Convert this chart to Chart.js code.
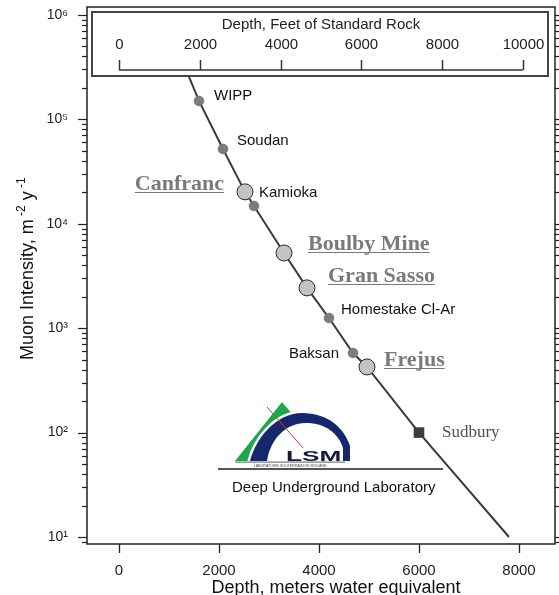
<!DOCTYPE html>
<html><head><meta charset="utf-8">
<script src="https://cdn.jsdelivr.net/npm/chart.js@4.4.1/dist/chart.umd.min.js"></script>
<style>html,body{margin:0;padding:0;background:#fff;} #wrap{width:559px;height:595px;position:relative;}</style>
</head><body><div id="wrap"><canvas id="c"></canvas></div>
<script>
// ---------------- data ----------------
const smallSites = ['WIPP', 'Soudan', 'Kamioka', 'Homestake Cl-Ar', 'Baksan'];
const smallDepth = [1600, 2080, 2700, 4200, 4680];
const smallIntensity = [1.5e5, 5.2e4, 1.48e4, 1.25e3, 578];

const largeSites = ['Canfranc', 'Boulby Mine', 'Gran Sasso', 'Frejus'];
const largeDepth = [2520, 3300, 3760, 4960];
const largeIntensity = [2.02e4, 5.25e3, 2.43e3, 425];

const squareSites = ['Sudbury'];
const squareDepth = [6000];
const squareIntensity = [100];

const curveDepth = [1400, 1600, 2080, 2520, 2700, 3300, 3760, 4200, 4680, 4960, 6000, 7800];
const curveIntensity = [2.55e5, 1.5e5, 5.2e4, 2.02e4, 1.48e4, 5.25e3, 2.43e3, 1.25e3, 578, 425, 100, 10];

const xTicks = [0, 2000, 4000, 6000, 8000];
const xTickLabels = ['0', '2000', '4000', '6000', '8000'];
const yDecades = [10, 100, 1000, 10000, 100000, 1000000];
const yDecadeLabels = ['10\u00B9', '10\u00B2', '10\u00B3', '10\u2074', '10\u2075', '10\u2076'];
const yMinorMultipliers = [2, 3, 4, 5, 6, 7, 8, 9];
const feetTicks = [0, 2000, 4000, 6000, 8000, 10000];
const feetTickLabels = ['0', '2000', '4000', '6000', '8000', '10000'];
const mwePerFootStdRock = 0.8077;

const xTitle = 'Depth, meters water equivalent';
const feetTitle = 'Depth, Feet of Standard Rock';
const logoCaption = 'Deep Underground Laboratory';

// ---------------- styles ----------------
const SANS = "'Liberation Sans', Arial, Helvetica, sans-serif";
const SERIF = "'Liberation Serif', 'Times New Roman', serif";
const AX = '#222';
// label offsets (px) relative to marker: [dx, dyBaseline, align]
const smallLabelOff = [[15, -1, 'left'], [14, -4, 'left'], [5, -9, 'left'], [12, -4, 'left'], [-14, 5, 'right']];
const largeLabelOff = [[-21, -2, 'right'], [24, -3, 'left'], [21, -6, 'left'], [17, -1, 'left']];
const squareLabelOff = [[23, 4, 'left']];

const xMin = -640, xMax = 8720;
const yMin = 8.57, yMax = 1.19e6;

const pts = (xs, ys) => xs.map((x, i) => ({ x: x, y: ys[i] }));
const zeroPad = s => { s.paddingTop = 0; s.paddingBottom = 0; s.paddingLeft = 0; s.paddingRight = 0; };

function drawLogo(ctx) {
  ctx.fillStyle = '#1ea84b';
  ctx.beginPath(); ctx.moveTo(282, 402); ctx.lineTo(235, 461); ctx.lineTo(332, 461); ctx.closePath(); ctx.fill();
  const outer = new Path2D();
  outer.moveTo(250, 461);
  outer.bezierCurveTo(255, 440, 275, 413, 302, 413);
  outer.bezierCurveTo(328, 413, 344, 428, 350, 446);
  outer.lineTo(350, 461);
  outer.closePath();
  const inner = new Path2D();
  inner.moveTo(267, 461);
  inner.bezierCurveTo(270, 440, 285, 423, 306, 423);
  inner.bezierCurveTo(325, 423, 338, 433, 343, 448);
  inner.lineTo(343, 461);
  inner.closePath();
  ctx.strokeStyle = '#ffffff'; ctx.lineWidth = 5; ctx.stroke(outer);
  ctx.fillStyle = '#14296b'; ctx.fill(outer);
  ctx.fillStyle = '#ffffff'; ctx.fill(inner);
  ctx.fillStyle = '#ffffff'; ctx.fillRect(228, 461, 125, 6);
  ctx.strokeStyle = '#e0304a'; ctx.lineWidth = 1;
  ctx.beginPath(); ctx.moveTo(267, 407); ctx.lineTo(303, 448); ctx.stroke();
  ctx.save();
  ctx.translate(286, 461); ctx.scale(1.75, 1);
  ctx.font = 'bold 15px ' + SANS; ctx.textAlign = 'left'; ctx.textBaseline = 'alphabetic';
  ctx.lineWidth = 3; ctx.strokeStyle = '#fff'; ctx.strokeText('LSM', 0, 0);
  ctx.fillStyle = '#161a3a'; ctx.fillText('LSM', 0, 0);
  ctx.restore();
  ctx.fillStyle = '#777'; ctx.fillRect(235, 461.5, 110, 1.2);
  ctx.font = '3.6px ' + SANS; ctx.fillStyle = '#444'; ctx.textAlign = 'center'; ctx.textBaseline = 'alphabetic';
  ctx.fillText('LABORATOIRE SOUTERRAIN DE MODANE', 290, 466.5);
}

const overlay = {
  id: 'overlay',
  afterDraw(chart) {
    const ctx = chart.ctx;
    const xs = chart.scales.x, ys = chart.scales.y;
    const a = chart.chartArea;
    ctx.save();
    ctx.strokeStyle = AX; ctx.lineWidth = 1.5;
    ctx.strokeRect(a.left, a.top, a.right - a.left, a.bottom - a.top);
    ctx.lineWidth = 1.3;
    xTicks.forEach(v => {
      const px = Math.round(xs.getPixelForValue(v)) + 0.5;
      ctx.beginPath(); ctx.moveTo(px, a.bottom); ctx.lineTo(px, a.bottom + 9); ctx.stroke();
    });
    ctx.lineWidth = 1.2;
    const tick = (v, len) => {
      if (v < yMin || v > yMax) return;
      const py = Math.round(ys.getPixelForValue(v)) + 0.5;
      ctx.beginPath(); ctx.moveTo(a.left - len, py); ctx.lineTo(a.left, py); ctx.stroke();
      ctx.beginPath(); ctx.moveTo(a.right, py); ctx.lineTo(a.right + len, py); ctx.stroke();
    };
    yDecades.forEach(d => {
      tick(d, 9);
      yMinorMultipliers.forEach(m => tick(d * m, 5));
    });
    yMinorMultipliers.forEach(m => tick(1 * m, 5));

    // feet axis box (feet converted to m.w.e. and placed by the x scale)
    const fpx = ft => xs.getPixelForValue(ft * mwePerFootStdRock);
    ctx.fillStyle = '#fff'; ctx.fillRect(92, 12, 456, 64);
    ctx.strokeStyle = '#444'; ctx.lineWidth = 2;
    ctx.strokeRect(92, 12, 456, 64);
    const fy = 70;
    ctx.strokeStyle = '#333'; ctx.lineWidth = 1.5;
    ctx.beginPath(); ctx.moveTo(fpx(feetTicks[0]), fy); ctx.lineTo(fpx(feetTicks[feetTicks.length - 1]), fy); ctx.stroke();
    ctx.fillStyle = AX; ctx.font = '15px ' + SANS; ctx.textAlign = 'center'; ctx.textBaseline = 'alphabetic';
    feetTicks.forEach((v, i) => {
      const px = Math.round(fpx(v)) + 0.5;
      ctx.beginPath(); ctx.moveTo(px, fy); ctx.lineTo(px, fy - 10); ctx.stroke();
      ctx.fillText(feetTickLabels[i], px, 49);
    });
    ctx.fillText(feetTitle, 321, 29);

    const label = (names, dx, dy, offs, style) => {
      names.forEach((n, i) => {
        const px = xs.getPixelForValue(dx[i]), py = ys.getPixelForValue(dy[i]);
        const o = offs[i];
        ctx.textAlign = o[2]; ctx.textBaseline = 'alphabetic';
        ctx.font = style.font; ctx.fillStyle = style.color;
        const tx = px + o[0], ty = py + o[1];
        ctx.fillText(n, tx, ty);
        if (style.underline) {
          const w = ctx.measureText(n).width;
          const x0 = o[2] === 'right' ? tx - w : tx;
          ctx.strokeStyle = style.color; ctx.lineWidth = 1;
          ctx.beginPath(); ctx.moveTo(x0, Math.round(ty + 2) + 0.5); ctx.lineTo(x0 + w, Math.round(ty + 2) + 0.5); ctx.stroke();
        }
      });
    };
    label(smallSites, smallDepth, smallIntensity, smallLabelOff, { font: '15px ' + SANS, color: '#111' });
    label(largeSites, largeDepth, largeIntensity, largeLabelOff, { font: 'bold 22px ' + SERIF, color: '#7a7a7a', underline: true });
    label(squareSites, squareDepth, squareIntensity, squareLabelOff, { font: '17px ' + SERIF, color: '#505050' });

    drawLogo(ctx);
    ctx.strokeStyle = '#555'; ctx.lineWidth = 2.2;
    ctx.beginPath(); ctx.moveTo(218, 469); ctx.lineTo(443, 469); ctx.stroke();
    ctx.fillStyle = '#111'; ctx.font = '15px ' + SANS; ctx.textAlign = 'left'; ctx.textBaseline = 'alphabetic';
    ctx.fillText(logoCaption, 232, 492);

    ctx.fillStyle = '#111'; ctx.font = '18px ' + SANS; ctx.textAlign = 'center';
    ctx.fillText(xTitle, 336, 593);
    ctx.save();
    ctx.translate(33, 360); ctx.rotate(-Math.PI / 2);
    ctx.textAlign = 'left';
    const segs = [['Muon Intensity, m', false], [' -2', true], [' y', false], [' -1', true]];
    let cx = 0;
    segs.forEach(s => {
      ctx.font = (s[1] ? '12px ' : '18px ') + SANS;
      ctx.fillText(s[0], cx, s[1] ? -8 : 0);
      cx += ctx.measureText(s[0]).width;
    });
    ctx.restore();
    ctx.restore();
  }
};

Chart.defaults.font.family = SANS;
new Chart(document.getElementById('c'), {
  type: 'scatter',
  data: {
    datasets: [
      { label: 'curve', data: pts(curveDepth, curveIntensity), showLine: true, borderColor: '#3a3a3a', borderWidth: 2, pointRadius: 0, tension: 0, order: 4 },
      { label: 'other labs', data: pts(smallDepth, smallIntensity), pointRadius: 5, backgroundColor: '#7c7c7c', borderColor: '#6e6e6e', borderWidth: 0.5, order: 3 },
      { label: 'European labs', data: pts(largeDepth, largeIntensity), pointRadius: 8, backgroundColor: '#c3c3c3', borderColor: '#2a2a2a', borderWidth: 1, order: 2 },
      { label: 'Sudbury', data: pts(squareDepth, squareIntensity), pointStyle: 'rect', pointRadius: 7.5, backgroundColor: '#3c3c3c', borderColor: '#3c3c3c', borderWidth: 0, order: 1 }
    ]
  },
  options: {
    responsive: true, maintainAspectRatio: false, animation: false,
    events: [],
    layout: { autoPadding: false, padding: { top: 7, right: 4, left: 0, bottom: 0 } },
    plugins: { legend: { display: false }, tooltip: { enabled: false } },
    scales: {
      x: {
        type: 'linear', min: xMin, max: xMax,
        afterBuildTicks: s => { s.ticks = xTicks.map(v => ({ value: v })); },
        afterFit: s => { s.height = 51; zeroPad(s); },
        ticks: {
          color: AX, font: { size: 15 }, padding: 10, maxRotation: 0, autoSkip: false,
          callback: v => { const i = xTicks.indexOf(v); return i >= 0 ? xTickLabels[i] : ''; }
        },
        grid: { display: false }, border: { display: false }
      },
      y: {
        type: 'logarithmic', min: yMin, max: yMax,
        afterBuildTicks: s => { s.ticks = yDecades.map(d => ({ value: d, major: true })); },
        afterFit: s => { s.width = 87; zeroPad(s); },
        ticks: {
          color: AX, font: { size: 14 }, padding: 11, autoSkip: false,
          callback: v => { const i = yDecades.indexOf(v); return i >= 0 ? yDecadeLabels[i] : ''; }
        },
        grid: { display: false }, border: { display: false }
      }
    }
  },
  plugins: [overlay]
});
</script></body></html>
